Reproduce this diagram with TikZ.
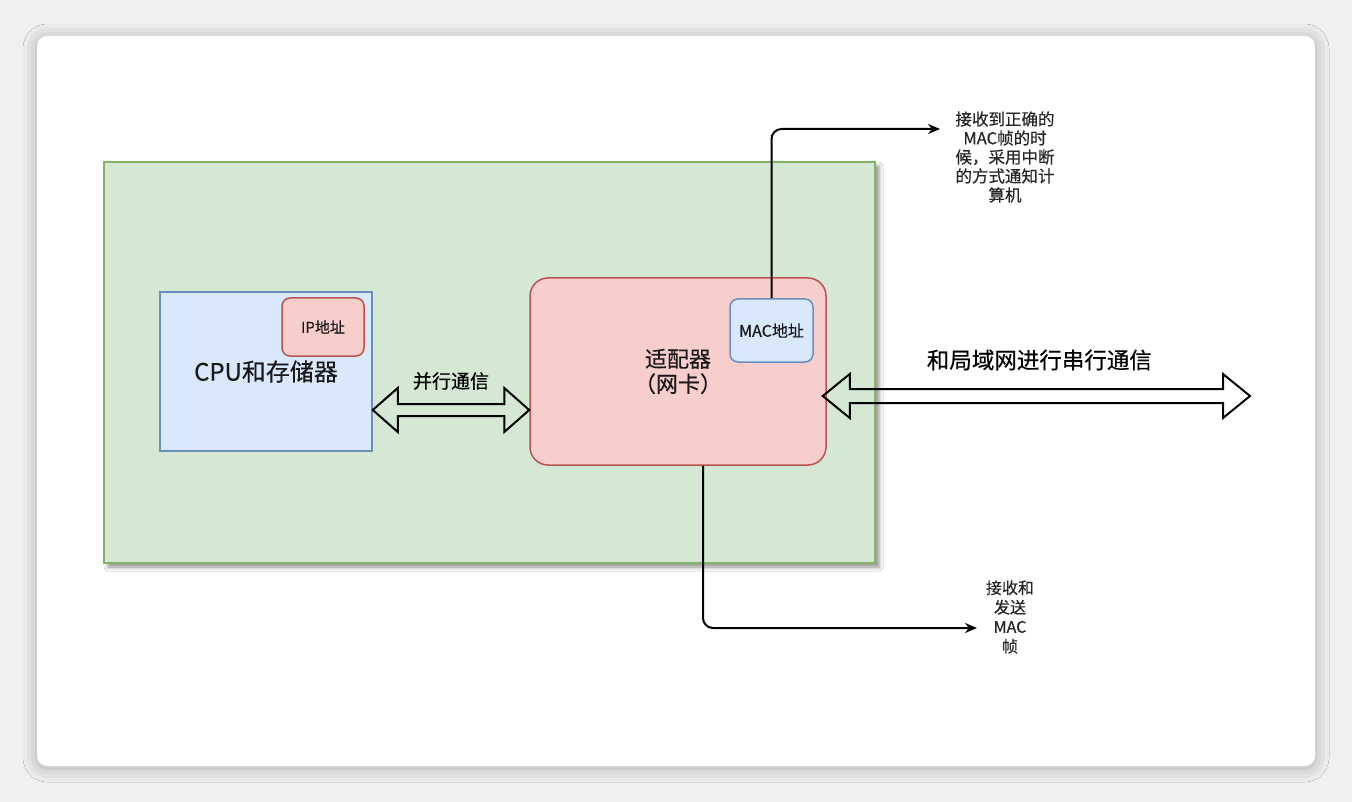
\documentclass[tikz,border=0pt]{standalone}
\usepackage{fontspec}
\setmainfont{Noto Sans CJK SC}[FakeBold=0.4]
\usepackage{tikz}
\usetikzlibrary{arrows.meta}
\usetikzlibrary{calc}
\usetikzlibrary{shadows.blur}

\definecolor{bgGray}{HTML}{F0F0F0}
\definecolor{greenFill}{HTML}{D5E8D4}
\definecolor{greenLine}{HTML}{82B366}
\definecolor{blueFill}{HTML}{DAE8FC}
\definecolor{blueLine}{HTML}{6C8EBF}
\definecolor{redFill}{HTML}{F8CECC}
\definecolor{redLine}{HTML}{B85450}

\tikzset{
  box/.style = {rectangle, line width = 1.5pt, inner sep = 0pt, align = center, text = black!90},
  greenbox/.style = {box, draw = greenLine, fill = greenFill},
  bluebox/.style = {box, draw = blueLine, fill = blueFill},
  redbox/.style = {box, draw = redLine, fill = redFill, rounded corners = 8pt},
  link/.style = {line width = 2pt, rounded corners = 10pt, -{Stealth[length = 12pt, width = 10pt]}},
  hollow/.style = {line width = 2pt, line join = miter},
  note/.style = {align = center, text = black!85, font = \fontsize{16.5}{19}\selectfont}
}

\begin{document}
\begin{tikzpicture}[x = 1pt, y = -1pt]
\useasboundingbox (0,0) rectangle (1352,802);
\fill[bgGray] (0,0) rectangle (1352,802);
\fill[white, rounded corners = 10pt, blur shadow = {shadow xshift = 0pt, shadow yshift = -2pt, shadow blur radius = 14pt, shadow opacity = 30}] (37,36) rectangle (1315,766);

\draw (489.5,362.5) node[greenbox, name = board, minimum width = 771pt, minimum height = 401pt, blur shadow = {shadow xshift = 4pt, shadow yshift = -4pt, shadow blur radius = 4pt, shadow opacity = 45}]{};
\draw (266,371.5) node[bluebox, name = cpu, minimum width = 212pt, minimum height = 159pt, font = \fontsize{24}{27}\selectfont]{CPU和存储器};
\draw (323,327) node[redbox, name = ip, minimum width = 82pt, minimum height = 58pt, font = \fontsize{15}{18}\selectfont]{IP地址};
\draw (678,371.5) node[redbox, name = nic, rounded corners = 18pt, minimum width = 296pt, minimum height = 187pt, font = \fontsize{22}{25}\selectfont]{适配器\\（网卡）};
\draw (771.5,330.5) node[bluebox, name = mac, rounded corners = 8pt, minimum width = 83pt, minimum height = 63pt, font = \fontsize{16}{19}\selectfont]{MAC地址};

% parallel link cpu <-> nic
\coordinate (pl) at (cpu.east |- 0,410);
\coordinate (pr) at (nic.west |- 0,410);
\draw[hollow] (pl) -- ++(25,-22) -- ++(0,16) -- ($(pr)+(-25,-6)$) -- ++(0,-16) -- (pr) -- ++(-25,22) -- ++(0,-16) -- ($(pl)+(25,6)$) -- ++(0,16) -- cycle;
\draw ($(pl)!0.5!(pr)$) + (0,-29) node[name = parlabel, font = \fontsize{19}{22}\selectfont]{并行通信};

% serial link to the LAN
\coordinate (ll) at ($(nic.east |- 0,396)+(-4,0)$);
\coordinate (lan) at (1250,396);
\draw[hollow] (ll) -- ++(27,-22) -- ++(0,15) -- ($(lan)+(-27,-7)$) -- ++(0,-15) -- (lan) -- ++(-27,22) -- ++(0,-15) -- ($(ll)+(27,7)$) -- ++(0,15) -- cycle;
\draw ($(ll)!0.5!(lan)$) + (3,-36) node[name = lanlabel, font = \fontsize{22.5}{26}\selectfont]{和局域网进行串行通信};

% notes
\coordinate (t1) at (940,129);
\draw[link] (mac.north) |- (t1);
\draw (1005,157) node[note, name = irq]{接收到正确的\\MAC帧的时\\候，采用中断\\的方式通知计\\算机};
\coordinate (t2) at (977,628);
\draw[link] ($(nic.south)+(25,0)$) |- (t2);
\draw (1010,617) node[note, name = frame, font = \fontsize{16}{19.5}\selectfont]{接收和\\发送\\MAC\\帧};
\end{tikzpicture}
\end{document}
